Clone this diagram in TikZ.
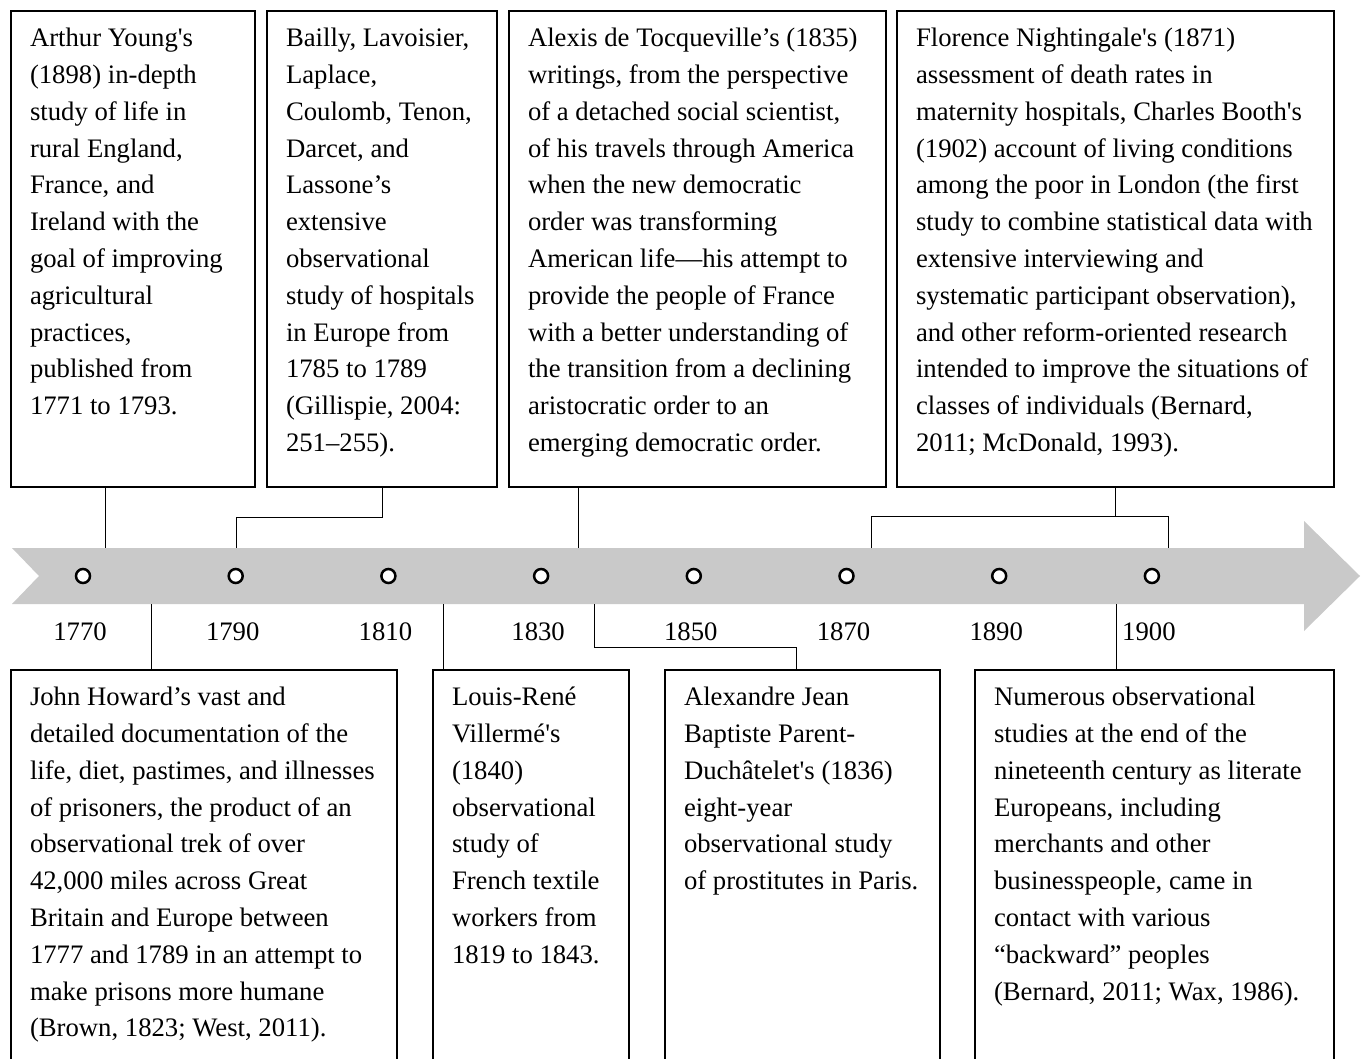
\documentclass[tikz,border=0pt]{standalone}
\usepackage{fontspec}
\setmainfont{Liberation Serif}
\usetikzlibrary{positioning,calc}

\definecolor{bandgray}{RGB}{201,201,201}
\newcommand{\eventfont}{\fontsize{26.7}{36.8}\selectfont}
\newcommand{\eventtext}[3]{\parbox[c][#2][t]{#1}{\raggedright\strut #3}}
\newcommand{\sq}{\textquotesingle}

\tikzset{
    event/.style={draw, line width=2pt, rectangle, anchor=north west,
        inner xsep=19pt, inner ysep=10pt, font=\eventfont},
    yeardot/.style={circle, draw, fill=white, line width=2.5pt,
        minimum size=14pt, inner sep=0pt},
    yearlabel/.style={font=\eventfont, inner sep=0pt},
    leader/.style={line width=0.9pt}
}

\begin{document}
\begin{tikzpicture}[x=1pt,y=-1pt]
    \clip (0,0) rectangle (1364,1059);

    % timeline band
    \fill[bandgray] (12,548) -- (1304,548) -- (1304,521) -- (1360,576)
        -- (1304,631) -- (1304,604) -- (12,604) -- (39,576) -- cycle;

    \foreach \yr [count=\i from 0] in {1770,1790,1810,1830,1850,1870,1890,1900} {
        \node [yeardot] (t\yr) at ({83+152.7*\i},576) {};
        \node [yearlabel] (y\yr) at ($(t\yr)+(-3,56)$) {\yr};
    }

    % upper events
    \node [event] (young) at (10,10) {\eventtext{206pt}{456pt}{%
        Arthur Young\sq s\\ (1898) in-depth\\ study of life in\\ rural England,\\
        France, and\\ Ireland with the\\ goal of improving\\ agricultural\\
        practices,\\ published from\\ 1771 to 1793.}};
    \node [event] (bailly) at (266,10) {\eventtext{192pt}{456pt}{%
        Bailly, Lavoisier,\\ Laplace,\\ Coulomb, Tenon,\\ Darcet, and\\
        Lassone's\\ extensive\\ observational\\ study of hospitals\\
        in Europe from\\ 1785 to 1789\\ (Gillispie, 2004:\\ 251--255).}};
    \node [event] (tocq) at (508,10) {\eventtext{339pt}{456pt}{%
        Alexis de Tocqueville's (1835)\\ writings, from the perspective\\
        of a detached social scientist,\\ of his travels through America\\
        when the new democratic\\ order was transforming\\
        American life---his attempt to\\ provide the people of France\\
        with a better understanding of\\ the transition from a declining\\
        aristocratic order to an\\ emerging democratic order.}};
    \node [event] (flor) at (896,10) {\eventtext{399pt}{456pt}{%
        Florence Nightingale\sq s (1871)\\ assessment of death rates in\\
        maternity hospitals, Charles Booth\sq s\\ (1902) account of living conditions\\
        among the poor in London (the first\\ study to combine statistical data with\\
        extensive interviewing and\\ systematic participant observation),\\
        and other reform-oriented research\\ intended to improve the situations of\\
        classes of individuals (Bernard,\\ 2011; McDonald, 1993).}};

    % lower events
    \node [event] (howard) at (10,669) {\eventtext{348pt}{440pt}{%
        John Howard's vast and\\ detailed documentation of the\\
        life, diet, pastimes, and illnesses\\ of prisoners, the product of an\\
        observational trek of over\\ 42,000 miles across Great\\
        Britain and Europe between\\ 1777 and 1789 in an attempt to\\
        make prisons more humane\\ (Brown, 1823; West, 2011).}};
    \node [event] (villerme) at (432,669) {\eventtext{158pt}{440pt}{%
        Louis-René\\ Villermé\sq s\\ (1840)\\ observational\\ study of\\
        French textile\\ workers from\\ 1819 to 1843.}};
    \node [event] (parent) at (664,669) {\eventtext{237pt}{440pt}{%
        Alexandre Jean\\ Baptiste Parent-\\ Duchâtelet\sq s (1836)\\
        eight-year\\ observational study\\ of prostitutes in Paris.}};
    \node [event] (numerous) at (974,669) {\eventtext{321pt}{440pt}{%
        Numerous observational\\ studies at the end of the\\
        nineteenth century as literate\\ Europeans, including\\
        merchants and other\\ businesspeople, came in\\
        contact with various\\ ``backward'' peoples\\
        (Bernard, 2011; Wax, 1986).}};

    % leaders to the band
    \coordinate (upA) at (105,548);
    \coordinate (upB) at (236,548);
    \coordinate (upC) at (578,548);
    \coordinate (upD1) at (871,548);
    \coordinate (upD2) at (1168,548);
    \coordinate (dnE) at (151,604);
    \coordinate (dnF) at (443,604);
    \coordinate (dnG) at (594,604);
    \coordinate (dnH) at (1116,604);

    \draw [leader] (young.south -| upA) -- (upA);
    \draw [leader] (bailly.south) -- ++(0,29) -| (upB);
    \draw [leader] (tocq.south -| upC) -- (upC);
    \draw [leader] (flor.south) -- ++(0,29);
    \draw [leader] (upD1) -- ++(0,-32) -| (upD2);
    \draw [leader] (dnE) -- (howard.north -| dnE);
    \draw [leader] (dnF) -- (villerme.north -| dnF);
    \draw [leader] (dnG) -- ++(0,43) -| ([xshift=-6pt]parent.north);
    \draw [leader] (dnH) -- (numerous.north -| dnH);

\end{tikzpicture}
\end{document}
